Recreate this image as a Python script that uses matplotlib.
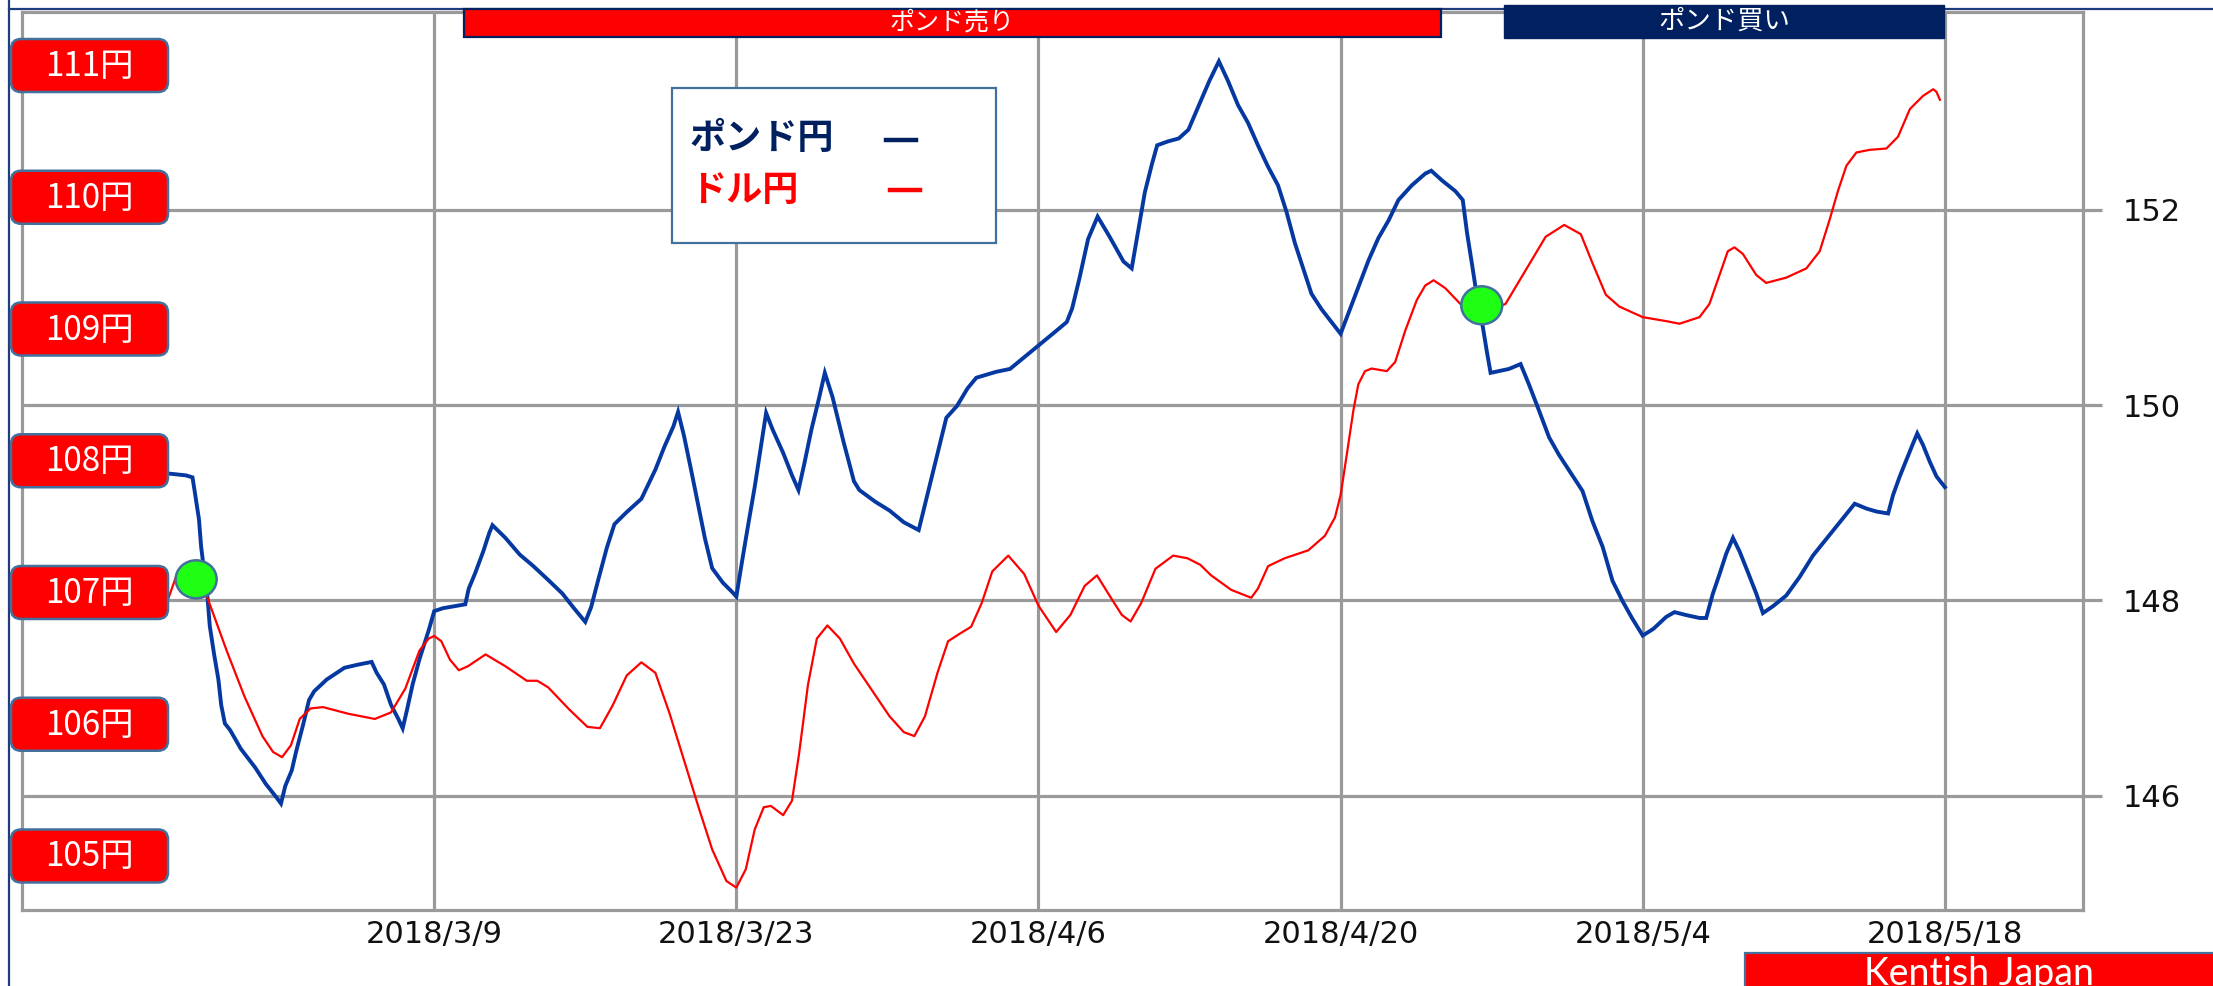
import numpy as np
import pandas as pd
import matplotlib
matplotlib.use("Agg")
import matplotlib.pyplot as plt
import matplotlib.dates as mdates
import matplotlib.transforms as mtransforms
from matplotlib.patches import FancyBboxPatch, Ellipse, Rectangle
from matplotlib.lines import Line2D

# ---------------- data ----------------
base_date = "2018-03-09"   # day 0 of the day offsets below

gbp_days = [-12.35, -11.5, -11.2, -11.1, -10.9, -10.8, -10.5, -10.4, -10.2, -10.0,
            -9.87, -9.7, -9.45, -8.96, -8.3, -7.8, -7.3, -7.1, -6.9, -6.6,
            -6.4, -6.06, -5.8, -5.56, -4.98, -4.16, -3.58, -2.9, -2.67, -2.33,
            -2.0, -1.67, -1.46, -1.26, -1.0, -0.68, -0.26, 0.0, 0.4, 1.44,
            1.6, 1.9, 2.27, 2.55, 2.7, 3.3, 3.96, 4.6, 5.28, 5.94,
            6.44, 7.0, 7.27, 7.6, 8.0, 8.35, 8.9, 9.6, 10.25, 10.66,
            11.08, 11.3, 11.57, 11.9, 12.23, 12.55, 12.88, 13.38, 13.79, 14.0,
            14.28, 14.53, 14.85, 15.18, 15.38, 15.68, 16.17, 16.58, 16.88, 17.15,
            17.48, 17.81, 18.1, 18.46, 18.96, 19.45, 19.7, 20.44, 21.1, 21.76,
            22.45, 22.74, 23.07, 23.4, 23.73, 24.22, 24.71, 25.12, 26.03, 26.68,
            27.34, 28.0, 28.66, 29.31, 29.56, 29.89, 30.3, 30.74, 31.28, 31.94,
            32.32, 32.6, 32.93, 33.26, 33.5, 34.0, 34.5, 34.95, 35.22, 35.53,
            35.92, 36.36, 36.78, 37.25, 37.71, 38.17, 38.64, 39.1, 39.49, 39.88,
            40.34, 40.65, 41.12, 41.58, 42.0, 42.36, 42.82, 43.29, 43.75, 44.22,
            44.68, 45.3, 45.92, 46.2, 46.7, 47.32, 47.66, 47.86, 48.09, 48.25,
            48.59, 48.79, 48.95, 49.8, 50.34, 50.73, 51.2, 51.66, 52.12, 52.74,
            53.21, 53.67, 54.14, 54.6, 55.07, 55.5, 56.0, 56.5, 57.08, 57.47,
            58.01, 58.63, 58.94, 59.25, 59.56, 59.87, 60.18, 60.49, 60.87, 61.26,
            61.57, 62.03, 62.65, 63.27, 63.89, 64.51, 65.13, 65.82, 66.37, 66.83,
            67.37, 67.6, 67.91, 68.22, 68.53, 68.72, 68.99, 69.3, 69.61, 70.0]
gbp_vals = [149.30, 149.28, 149.26, 149.12, 148.83, 148.55, 148.02, 147.74, 147.45, 147.19,
            146.93, 146.74, 146.67, 146.48, 146.29, 146.12, 145.98, 145.92, 146.10, 146.26,
            146.45, 146.74, 146.98, 147.07, 147.19, 147.31, 147.34, 147.37, 147.26, 147.14,
            146.93, 146.79, 146.69, 146.88, 147.14, 147.40, 147.69, 147.89, 147.92, 147.96,
            148.12, 148.28, 148.50, 148.69, 148.77, 148.64, 148.47, 148.35, 148.21, 148.07,
            147.93, 147.78, 147.93, 148.21, 148.54, 148.78, 148.90, 149.04, 149.34, 149.57,
            149.78, 149.93, 149.69, 149.34, 148.98, 148.63, 148.33, 148.18, 148.09, 148.04,
            148.42, 148.75, 149.16, 149.63, 149.92, 149.75, 149.51, 149.28, 149.13, 149.40,
            149.75, 150.05, 150.33, 150.08, 149.63, 149.22, 149.13, 149.01, 148.92, 148.80,
            148.72, 148.98, 149.28, 149.57, 149.87, 149.99, 150.17, 150.28, 150.34, 150.37,
            150.49, 150.61, 150.73, 150.85, 150.99, 151.29, 151.70, 151.93, 151.73, 151.47,
            151.40, 151.76, 152.18, 152.47, 152.66, 152.70, 152.73, 152.82, 152.96, 153.12,
            153.32, 153.52, 153.32, 153.07, 152.89, 152.66, 152.44, 152.25, 151.98, 151.66,
            151.35, 151.14, 150.98, 150.85, 150.73, 150.94, 151.21, 151.48, 151.71, 151.89,
            152.10, 152.25, 152.37, 152.40, 152.30, 152.19, 152.10, 151.76, 151.44, 151.21,
            150.80, 150.53, 150.33, 150.37, 150.42, 150.21, 149.94, 149.67, 149.49, 149.28,
            149.12, 148.81, 148.55, 148.20, 147.99, 147.82, 147.64, 147.71, 147.83, 147.88,
            147.85, 147.82, 147.82, 148.07, 148.27, 148.48, 148.64, 148.50, 148.29, 148.07,
            147.87, 147.94, 148.05, 148.24, 148.46, 148.63, 148.80, 148.99, 148.94, 148.91,
            148.89, 149.08, 149.27, 149.44, 149.61, 149.71, 149.59, 149.42, 149.27, 149.16]

usd_days = [-12.35, -11.94, -11.2, -10.53, -9.62, -8.79, -7.96, -7.47, -7.05, -6.64,
            -6.23, -5.73, -5.15, -3.99, -2.75, -2.0, -1.34, -0.68, -0.26, 0.0,
            0.33, 0.73, 1.14, 1.56, 2.38, 3.3, 4.29, 4.78, 5.28, 6.27,
            7.1, 7.68, 8.26, 8.92, 9.6, 10.25, 10.91, 11.57, 12.23, 12.88,
            13.54, 14.0, 14.44, 14.85, 15.27, 15.6, 16.17, 16.58, 16.91, 17.32,
            17.73, 18.22, 18.8, 19.45, 20.11, 21.1, 21.76, 22.25, 22.74, 23.32,
            23.81, 24.38, 24.88, 25.37, 25.86, 26.6, 27.34, 28.0, 28.82, 29.48,
            30.14, 30.71, 31.28, 31.86, 32.27, 32.76, 33.42, 34.24, 34.9, 35.5,
            36.0, 36.93, 37.86, 38.17, 38.64, 39.41, 40.5, 41.27, 41.74, 42.0,
            42.28, 42.59, 42.82, 43.13, 43.44, 44.14, 44.53, 45.0, 45.53, 45.92,
            46.31, 46.85, 47.55, 48.5, 49.64, 50.26, 50.88, 51.5, 52.36, 53.13,
            53.67, 54.29, 54.92, 56.0, 57.08, 57.7, 58.63, 59.09, 59.56, 59.94,
            60.25, 60.64, 61.26, 61.72, 62.65, 63.58, 64.2, 64.66, 65.05, 65.44,
            65.9, 66.52, 67.29, 67.83, 68.38, 68.99, 69.46, 69.61, 69.77]
usd_vals = [106.94, 107.13, 107.12, 106.97, 106.56, 106.21, 105.91, 105.79, 105.75, 105.84,
            106.04, 106.12, 106.13, 106.08, 106.04, 106.09, 106.27, 106.56, 106.65, 106.67,
            106.63, 106.49, 106.41, 106.44, 106.53, 106.44, 106.33, 106.33, 106.28, 106.11,
            105.98, 105.97, 106.14, 106.37, 106.47, 106.39, 106.08, 105.73, 105.38, 105.05,
            104.81, 104.76, 104.90, 105.20, 105.37, 105.38, 105.31, 105.42, 105.78, 106.30,
            106.65, 106.75, 106.65, 106.46, 106.30, 106.06, 105.94, 105.91, 106.06, 106.39,
            106.63, 106.69, 106.74, 106.92, 107.16, 107.28, 107.14, 106.90, 106.70, 106.83,
            107.05, 107.13, 106.98, 106.83, 106.78, 106.92, 107.18, 107.28, 107.26, 107.21,
            107.13, 107.02, 106.96, 107.03, 107.20, 107.26, 107.32, 107.43, 107.57, 107.74,
            108.04, 108.38, 108.58, 108.68, 108.70, 108.68, 108.75, 108.99, 109.22, 109.33,
            109.37, 109.31, 109.19, 109.12, 109.19, 109.36, 109.53, 109.70, 109.79, 109.72,
            109.50, 109.26, 109.17, 109.09, 109.06, 109.04, 109.09, 109.19, 109.41, 109.59,
            109.62, 109.57, 109.41, 109.35, 109.39, 109.46, 109.59, 109.83, 110.05, 110.24,
            110.34, 110.36, 110.37, 110.46, 110.67, 110.77, 110.82, 110.80, 110.74]

signal_days = [-11.03, 48.54]
signal_vals = [107.10, 109.18]

tick_dates = ["2018-03-09", "2018-03-23", "2018-04-06", "2018-04-20", "2018-05-04", "2018-05-18"]
tick_labels = ["2018/3/9", "2018/3/23", "2018/4/6", "2018/4/20", "2018/5/4", "2018/5/18"]
right_ticks = [146, 148, 150, 152]
right_tick_labels = ["146", "148", "150", "152"]
yen_levels = [111, 110, 109, 108, 107, 106, 105]
legend_names = ["ポンド円", "ドル円"]
sell_label = "ポンド売り"
buy_label = "ポンド買い"
credit = "Kentish Japan"

# ---------------- styles ----------------
W, H = 2213, 986
GRAY = "#9a9a9a"
NAVY = "#002060"
BLUE = "#0538a0"
RED = "#ff0000"
EDGE = "#41719c"
GREEN = "#1eff14"
CJK = ["Noto Sans CJK JP", "DejaVu Sans"]

fig = plt.figure(figsize=(W / 100, H / 100), dpi=100)
fig.patch.set_facecolor("white")

px = mtransforms.Affine2D().scale(1 / W, -1 / H).translate(0, 1) + fig.transFigure

left_px, right_px, top_px, bot_px = 22, 2083, 11.5, 910
ax = fig.add_axes([left_px / W, 1 - bot_px / H, (right_px - left_px) / W, (bot_px - top_px) / H])

base_num = mdates.date2num(pd.Timestamp(base_date).to_pydatetime())
def xnum(days):
    return base_num + np.asarray(days, dtype=float)

ax2 = ax.twinx()

# GBP/JPY on the right scale
ax.plot(xnum(gbp_days), gbp_vals, color=BLUE, lw=2.8, zorder=3, solid_joinstyle="miter")
ax.set_ylim(144.83, 154.03)
ax.set_xlim(xnum(-19.1), xnum(76.4))
ax.yaxis.tick_right()
ax.set_yticks(right_ticks)
ax.set_yticklabels(right_tick_labels)
ax.set_xticks([mdates.date2num(pd.Timestamp(d).to_pydatetime()) for d in tick_dates])
ax.set_xticklabels(tick_labels)
ax.grid(True, color=GRAY, lw=2.3)
ax.set_axisbelow(True)
ax.tick_params(axis="y", which="both", left=False, right=True, labelleft=False, labelright=True,
               length=13.7, width=2.3, color=GRAY, pad=15, labelsize=22, labelcolor="#111111")
ax.tick_params(axis="x", length=0, pad=7, labelsize=22, labelcolor="#111111")
for s in ax.spines.values():
    s.set_color(GRAY)
    s.set_linewidth(2.3)

# USD/JPY on the hidden left scale
ax2.plot(xnum(usd_days), usd_vals, color=RED, lw=1.6, zorder=3)
ax2.set_ylim(104.59, 111.41)
ax2.set_yticks([])
for s in ax2.spines.values():
    s.set_visible(False)

# signal markers (ellipses on the USD/JPY line)
for d, v in zip(signal_days, signal_vals):
    tr = fig.dpi_scale_trans + mtransforms.ScaledTranslation(xnum(d), v, ax2.transData)
    e = Ellipse((0, 0), 0.41, 0.38, transform=tr, facecolor=GREEN, edgecolor=EDGE, lw=1.8, zorder=6)
    ax2.add_artist(e)

# yen level labels (left), placed on the USD/JPY scale
lab_base = mtransforms.blended_transform_factory(fig.transFigure, ax2.transData)
for v in yen_levels:
    tr = fig.dpi_scale_trans + mtransforms.ScaledTranslation(89.5 / W, v, lab_base)
    bw, bh = 1.57, 0.53
    box = FancyBboxPatch((-bw / 2, -bh / 2), bw, bh, boxstyle="round,pad=0,rounding_size=0.1",
                         transform=tr, facecolor=RED, edgecolor=EDGE, lw=1.8, zorder=4)
    fig.add_artist(box)
    fig.text(0, -0.01, f"{v}円", transform=tr, ha="center", va="center", color="white",
             fontsize=24, family=CJK, zorder=5)

# frame lines
fig.add_artist(Line2D([9, 9], [0, H], transform=px, color="#1f3d7a", lw=1.6, zorder=2))
fig.add_artist(Line2D([9, W], [9, 9], transform=px, color="#1f3d7a", lw=1.6, zorder=2))

# top signal bars
fig.add_artist(Rectangle((464, 9), 977, 28, transform=px, facecolor=RED, edgecolor=NAVY, lw=1.6, zorder=4))
fig.text(952, 23, sell_label, transform=px, ha="center", va="center", color="white",
         fontsize=18, family=CJK, zorder=5)
fig.add_artist(Rectangle((1504, 5), 440, 33, transform=px, facecolor=NAVY, edgecolor=NAVY, lw=1.0, zorder=4))
fig.text(1724, 21, buy_label, transform=px, ha="center", va="center", color="white",
         fontsize=19, family=CJK, zorder=5)

# legend box
fig.add_artist(Rectangle((672, 88), 324, 155, transform=px, facecolor="white", edgecolor=EDGE, lw=1.6, zorder=4))
fig.text(690, 139, legend_names[0], transform=px, ha="left", va="center", color=NAVY,
         fontsize=26, fontweight="bold", family=CJK, zorder=5)
fig.text(690, 190, legend_names[1], transform=px, ha="left", va="center", color=RED,
         fontsize=26, fontweight="bold", family=CJK, zorder=5)
fig.add_artist(Line2D([886, 916], [140, 140], transform=px, color=NAVY, lw=3.2, zorder=5))
fig.add_artist(Line2D([890, 920], [190, 190], transform=px, color=RED, lw=3.2, zorder=5))

# credit box
fig.add_artist(Rectangle((1745, 953), 490, 45, transform=px, facecolor=RED, edgecolor=EDGE, lw=1.6, zorder=4))
fig.text(1979, 985, credit, transform=px, ha="center", va="baseline", color="white",
         fontsize=27, family=["Lato", "DejaVu Sans"], zorder=5)

fig.savefig("out.png", dpi=100)
